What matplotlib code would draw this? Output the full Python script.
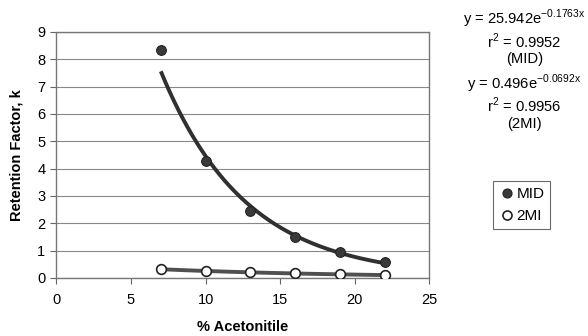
import matplotlib.pyplot as plt
import numpy as np

plt.rcParams['font.family'] = ['Liberation Sans', 'DejaVu Sans']
plt.rcParams['mathtext.fontset'] = 'custom'
plt.rcParams['mathtext.rm'] = 'Liberation Sans'

acn = np.array([7, 10, 13, 16, 19, 22])
k_mid = np.array([8.33, 4.27, 2.43, 1.48, 0.93, 0.57])
k_2mi = np.array([0.31, 0.25, 0.21, 0.16, 0.13, 0.10])

fit_labels = ['y = 25.942e$^{\\mathrm{-0.1763x}}$\nr$^{\\mathrm{2}}$ = 0.9952\n(MID)',
              'y = 0.496e$^{\\mathrm{-0.0692x}}$\nr$^{\\mathrm{2}}$ = 0.9956\n(2MI)']

fig = plt.figure(figsize=(5.88, 3.36), dpi=100)
ax = fig.add_axes([0.096, 0.173, 0.634, 0.732])

# exponential trend lines fitted to the points
xx = np.linspace(acn[0], acn[-1], 200)
for vals, col in [(k_mid, '#303030'), (k_2mi, '#505050')]:
    b, a = np.polyfit(acn, np.log(vals), 1)
    ax.plot(xx, np.exp(a) * np.exp(b * xx), color=col, lw=2.8, zorder=2,
            solid_capstyle='butt')

ax.plot(acn, k_mid, 'o', ms=7, mfc='#3a3a3a', mec='#222222', mew=0.8,
        zorder=3, label='MID')
ax.plot(acn, k_2mi, 'o', ms=7, mfc='white', mec='#222222', mew=1.2,
        zorder=3, label='2MI')

ax.set_xlim(0, 25)
ax.set_ylim(0, 9)
ax.set_xticks(range(0, 26, 5))
ax.set_yticks(range(0, 10))
ax.yaxis.grid(True, color='#888888', lw=0.8)
ax.set_axisbelow(True)
for s in ax.spines.values():
    s.set_color('#777777')
    s.set_linestyle((0, (1, 1)))
    s.set_linewidth(1.0)
ax.tick_params(labelsize=10.5, length=4, width=0.8, color='#666666')
ax.tick_params(axis='x', pad=7)
ax.tick_params(axis='y', pad=4)
ax.set_xlabel('% Acetonitile', fontsize=10.5, fontweight='bold', labelpad=9)
ax.set_ylabel('Retention Factor, k', fontsize=10.5, fontweight='bold', labelpad=10)

fig.text(0.892, 0.978, fit_labels[0], ha='center', va='top', fontsize=10.6,
         linespacing=1.1)
fig.text(0.892, 0.785, fit_labels[1], ha='center', va='top', fontsize=10.6,
         linespacing=1.1)

leg = ax.legend(loc='upper left', bbox_to_anchor=(1.172, 0.393),
                frameon=True, fancybox=False, fontsize=11,
                handletextpad=0.1, handlelength=1.0, borderpad=0.4,
                labelspacing=0.5, borderaxespad=0)
leg.get_frame().set_edgecolor('#444444')
leg.get_frame().set_linewidth(0.8)
for h in leg.legend_handles:
    h.set_markersize(6.5)

fig.savefig('out.png', dpi=100)
